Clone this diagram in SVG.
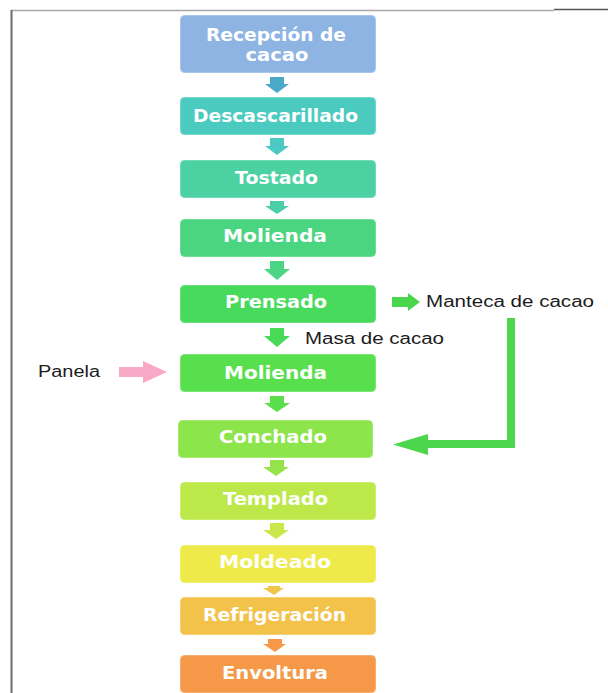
<svg xmlns="http://www.w3.org/2000/svg" width="608" height="693" viewBox="0 0 608 693">
<style>
.box{stroke-width:1;}
.lbl{font-family:"DejaVu Sans","Verdana",sans-serif;font-weight:bold;font-size:17px;fill:#ffffff;text-anchor:middle;}
.txt{font-family:"Liberation Sans",Arial,sans-serif;font-size:16px;fill:#1c1c1c;}
</style>
<rect x="0" y="0" width="608" height="693" fill="#ffffff"/>
<g id="frame">
<line x1="11" y1="10.5" x2="554" y2="10.5" stroke="#a8a8a8" stroke-width="1.5"/>
<line x1="554" y1="9.5" x2="608" y2="9.5" stroke="#555555" stroke-width="1.5"/>
<line x1="11.5" y1="10" x2="11.5" y2="693" stroke="#6e6e6e" stroke-width="2"/>
</g>
<g id="n1"><rect class="box" x="180.5" y="15.5" width="195" height="57" rx="4" fill="#8EB4E3" stroke="#A9C6EA"/>
<text class="lbl" x="276" y="41" textLength="140" lengthAdjust="spacingAndGlyphs">Recepción de</text>
<text class="lbl" x="277" y="61" textLength="63" lengthAdjust="spacingAndGlyphs">cacao</text></g>
<g id="n2"><rect class="box" x="180.5" y="97.5" width="195" height="37" rx="4" fill="#4BCBC0" stroke="#6fd6cd"/>
<text class="lbl" x="275.5" y="122" textLength="165" lengthAdjust="spacingAndGlyphs">Descascarillado</text></g>
<g id="n3"><rect class="box" x="180.5" y="160.5" width="195" height="37" rx="4" fill="#4CD1A2" stroke="#6fdab4"/>
<text class="lbl" x="276.5" y="184" textLength="83" lengthAdjust="spacingAndGlyphs">Tostado</text></g>
<g id="n4"><rect class="box" x="180.5" y="219.5" width="195" height="37" rx="4" fill="#4CD580" stroke="#6fdd98"/>
<text class="lbl" x="275" y="242" textLength="104" lengthAdjust="spacingAndGlyphs">Molienda</text></g>
<g id="n5"><rect class="box" x="180.5" y="285.5" width="195" height="37" rx="4" fill="#48DA5C" stroke="#6be17a"/>
<text class="lbl" x="276" y="308" textLength="102" lengthAdjust="spacingAndGlyphs">Prensado</text></g>
<g id="n6"><rect class="box" x="180.5" y="354.5" width="195" height="37" rx="4" fill="#57DF4D" stroke="#78e570"/>
<text class="lbl" x="275.5" y="379" textLength="103" lengthAdjust="spacingAndGlyphs">Molienda</text></g>
<g id="n7"><rect class="box" x="178.5" y="420.5" width="194" height="37" rx="4" fill="#8CE54A" stroke="#a4ea6e"/>
<text class="lbl" x="273" y="443" textLength="108" lengthAdjust="spacingAndGlyphs">Conchado</text></g>
<g id="n8"><rect class="box" x="180.5" y="482.5" width="195" height="37" rx="4" fill="#BDE84A" stroke="#cced6e"/>
<text class="lbl" x="275.5" y="505" textLength="105" lengthAdjust="spacingAndGlyphs">Templado</text></g>
<g id="n9"><rect class="box" x="180.5" y="545.5" width="195" height="37" rx="4" fill="#EDEA4A" stroke="#f1ee70"/>
<text class="lbl" x="275" y="568" textLength="112" lengthAdjust="spacingAndGlyphs">Moldeado</text></g>
<g id="n10"><rect class="box" x="180.5" y="597.5" width="195" height="37" rx="4" fill="#F2C24A" stroke="#f5cf70"/>
<text class="lbl" x="274.5" y="621" textLength="143" lengthAdjust="spacingAndGlyphs">Refrigeración</text></g>
<g id="n11"><rect class="box" x="180.5" y="655.5" width="195" height="37" rx="4" fill="#F59847" stroke="#f7ad6c"/>
<text class="lbl" x="275" y="679" textLength="106" lengthAdjust="spacingAndGlyphs">Envoltura</text></g>
<g id="labels">
<text class="txt" x="426" y="307" textLength="168" lengthAdjust="spacingAndGlyphs">Manteca de cacao</text>
<text class="txt" x="305" y="344" textLength="139" lengthAdjust="spacingAndGlyphs">Masa de cacao</text>
<text class="txt" x="38" y="377" textLength="62" lengthAdjust="spacingAndGlyphs">Panela</text>
</g>
<g id="connectors">
<path d="M270,77 H284 V84 H289 L277,93 L265,84 H270 Z" fill="#4AA9C9"/>
<path d="M270,138 H284 V146 H289 L277,155 L265,146 H270 Z" fill="#4BC9C2"/>
<path d="M270,201 H284 V206 H289 L277,214 L265,206 H270 Z" fill="#4BCFA8"/>
<path d="M270,261 H284 V269 H290 L277,280 L264,269 H270 Z" fill="#4CD585"/>
<path d="M270,328 H284 V336 H290 L277,347 L264,336 H270 Z" fill="#48D957"/>
<path d="M270,396 H284 V403 H290 L277,412 L264,403 H270 Z" fill="#5ADE4B"/>
<path d="M270,460 H284 V467 H289 L276,476 L263,467 H270 Z" fill="#95E34A"/>
<path d="M270,523 H284 V530 H289 L276,539 L263,530 H270 Z" fill="#CBE84A"/>
<path d="M268,586 H280 V588 H284 L274,595 L263,588 H268 Z" fill="#EEC64A"/>
<path d="M268,639 H282 V644 H286 L275,652 L263,644 H268 Z" fill="#F59847"/>
<path d="M392,297 H408 V293 L420,302 L408,311 V307 H392 Z" fill="#4CD64C"/>
<path d="M119,367 H143 V361 L167,372 L143,383 V377 H119 Z" fill="#F9A8C6"/>
<path d="M511,318 V444 H426" fill="none" stroke="#4CD64C" stroke-width="8"/>
<path d="M428,434 L393,444.5 L428,455 Z" fill="#4CD64C"/>
</g>
</svg>
